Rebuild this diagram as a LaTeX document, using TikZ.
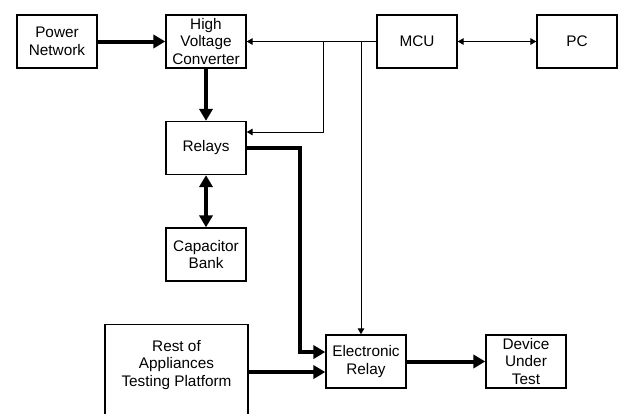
\documentclass[tikz,border=0pt]{standalone}
\usepackage{fontspec}
\setmainfont{Liberation Sans}
\usetikzlibrary{arrows.meta}
\tikzset{
    block/.style={draw, line width=1.1pt, minimum width=60pt, minimum height=39.75pt,
        inner sep=1pt, align=center, font=\fontsize{11.5}{13.4}\selectfont},
    power/.style={line width=3pt, -{Triangle[length=9pt,width=10pt]}},
    signal/.style={line width=0.75pt, -{Triangle[length=4.5pt,width=5pt]}},
    powerboth/.style={line width=3pt, {Triangle[length=9pt,width=10pt]}-{Triangle[length=9pt,width=10pt]}},
    signalboth/.style={line width=0.75pt, {Triangle[length=4.5pt,width=5pt]}-{Triangle[length=4.5pt,width=5pt]}}
}

\begin{document}
\begin{tikzpicture}[x=0.75pt,y=-0.75pt]
        \clip (0,0) rectangle (618,414);
        % blocks
        \node[block] (pn) at (57,41.5) {Power\\Network};
        \node[block] (hvc) at (206,41.5) {High\\Voltage\\Converter};
        \node[block] (mcu) at (417,41.5) {MCU};
        \node[block] (pc) at (577,41.5) {PC};
        \node[block] (rel) at (206,148) {Relays};
        \node[block] (cap) at (206,254.5) {Capacitor\\Bank};
        \node[block] (er) at (366,361.5) {Electronic\\Relay};
        \node[block] (dut) at (526,361.5) {Device\\Under\\Test};
        % the platform box runs past the lower edge
        \node[block, minimum width=107pt, minimum height=90pt, anchor=north] (rest) at (176.5,324) {};
        \node[block, draw=none] (resttext) at (176.5,365) {Rest of\\Appliances\\Testing Platform};
        % points on the wires
        \coordinate (tapa) at (323,41.5);
        \coordinate (tapb) at (361,41.5);
        \coordinate (bend) at (300,148);
        \coordinate (relin) at ([yshift=12pt]rel.east);
        \coordinate (erin0) at ([xshift=-3.75pt]er.north);
        \coordinate (erin1) at ([yshift=7.1pt]er.west);
        \coordinate (erin2) at ([yshift=-7.9pt]er.west);
        % power path
        \draw[power] (pn) -- (hvc);
        \draw[power] (hvc) -- (rel);
        \draw[powerboth] (rel) -- (cap);
        \draw[power] (rel.east) -- (bend) |- (erin1);
        \draw[power] (rest.east |- erin2) -- (erin2);
        \draw[power] (er) -- (dut);
        % control lines
        \draw[signal] (mcu) -- (hvc);
        \draw[signalboth] (mcu) -- (pc);
        \draw[signal] (tapa) |- (relin);
        \draw[signal] (tapb) -- (erin0);
\end{tikzpicture}
\end{document}
